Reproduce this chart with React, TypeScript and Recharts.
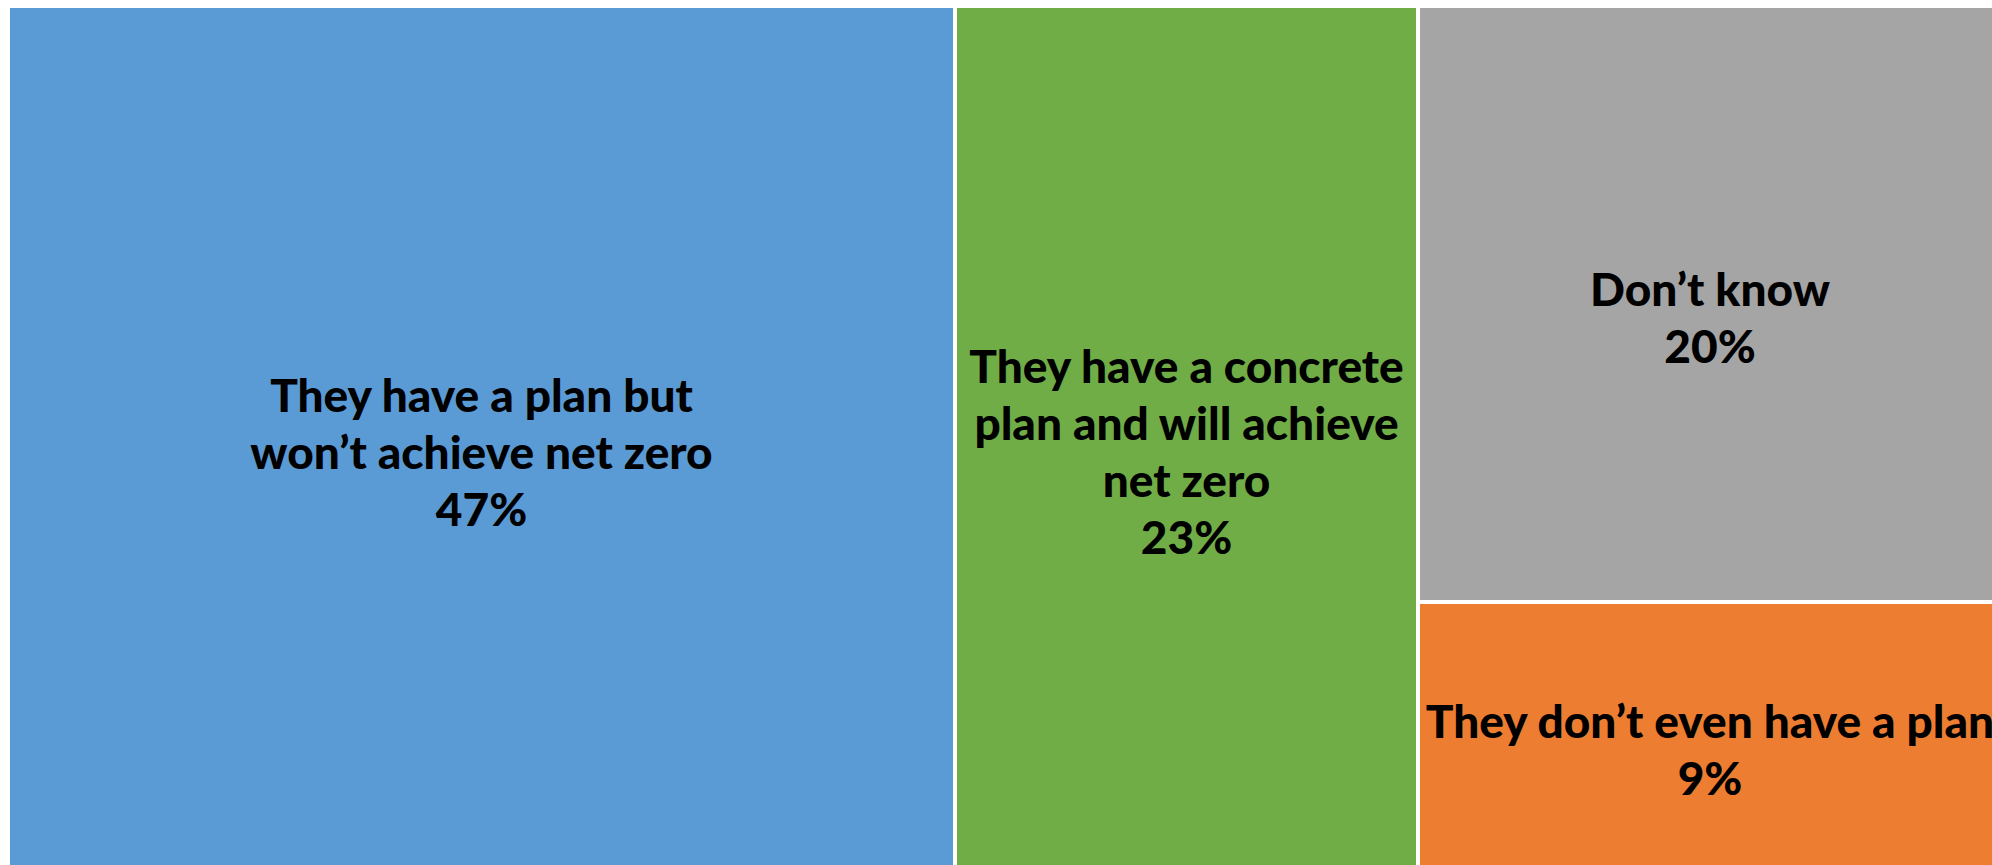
import { Treemap } from 'recharts'

// survey answers, in the order the tiles are laid out
const categories = [
  'They have a plan but won’t achieve net zero',
  'They have a concrete plan and will achieve net zero',
  'Don’t know',
  'They don’t even have a plan',
]
const labelLines = [
  ['They have a plan but', 'won’t achieve net zero'],
  ['They have a concrete', 'plan and will achieve', 'net zero'],
  ['Don’t know'],
  ['They don’t even have a plan'],
]
const shares = [47, 23, 20, 9]

const COLORS = ['#5B9BD5', '#70AD47', '#A5A5A5', '#ED7D31']
const FONT = 46
const LINE_H = 57

const data = categories.map((name, i) => ({ name, size: shares[i], lines: labelLines[i], color: COLORS[i] }))

function Tile(props: any) {
  const { x, y, width, height, depth, lines, color, value } = props
  if (depth !== 1) return null
  const rows: string[] = [...lines, `${value}%`]
  // Excel sits the text block a touch below the tile centre
  const first = y + height / 2 + 14 - ((rows.length - 1) * LINE_H) / 2 + FONT * 0.36
  return (
    <g>
      <rect x={x} y={y} width={width} height={height} fill={color} stroke="#fff" strokeWidth={4} />
      <text textAnchor="middle" fontFamily="Lato, 'Open Sans', sans-serif" fontWeight={900} fontSize={FONT} fill="#000">
        {rows.map((r, i) => (
          <tspan key={i} x={x + width / 2} y={first + i * LINE_H}>{r}</tspan>
        ))}
      </text>
    </g>
  )
}

export default function App() {
  return (
    <div style={{ position: 'fixed', left: 0, top: 0, width: 1992, height: 865, overflow: 'hidden', background: '#fff' }}>
      <div style={{ position: 'absolute', left: 8, top: 6 }}>
        <Treemap
          width={1994}
          height={864}
          data={data}
          dataKey="size"
          aspectRatio={1}
          isAnimationActive={false}
          content={(p: any) => <Tile {...p} />}
        />
      </div>
    </div>
  )
}
